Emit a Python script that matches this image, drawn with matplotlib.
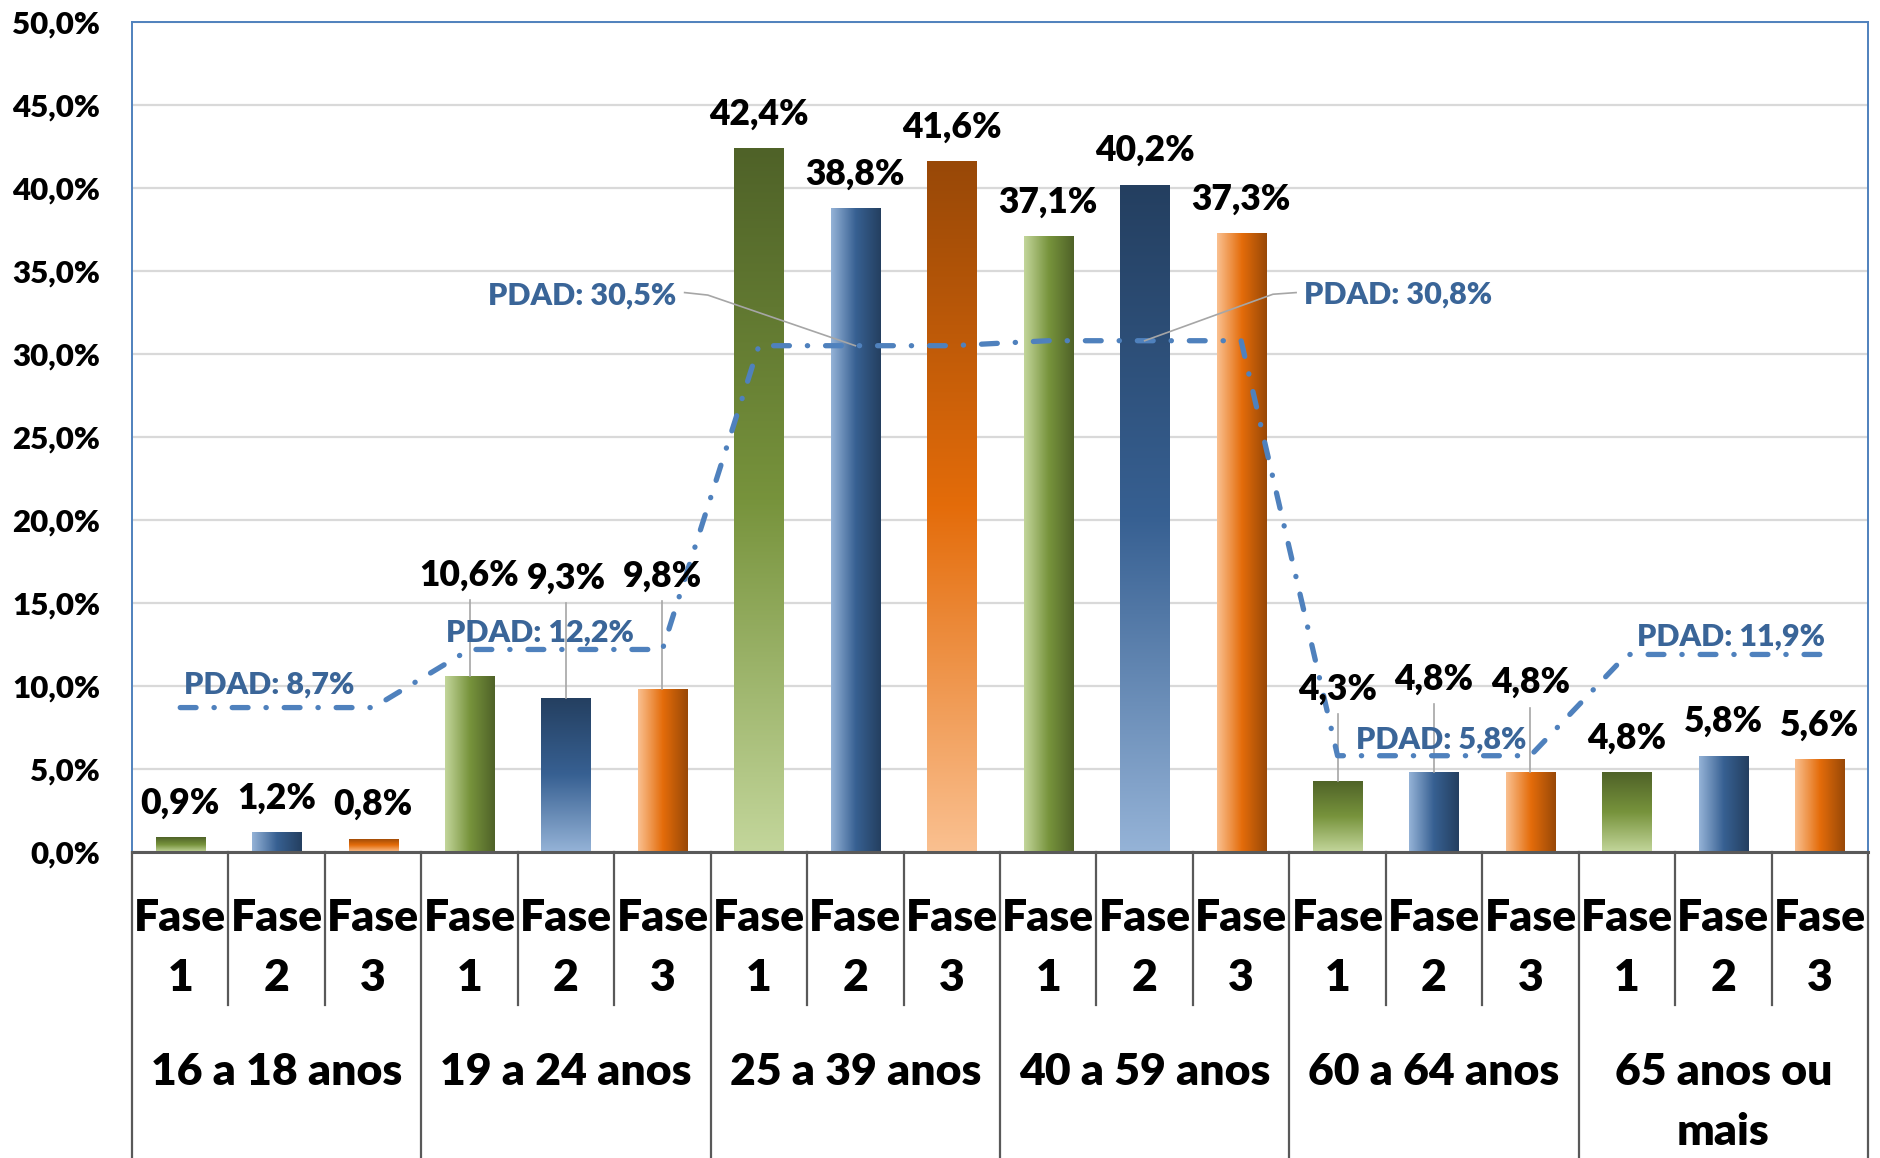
import numpy as np
import matplotlib
matplotlib.use('Agg')
import matplotlib.pyplot as plt
from matplotlib.colors import to_rgb
from matplotlib.transforms import blended_transform_factory
from matplotlib.lines import Line2D

# ---------------- data ----------------
groups = ['16 a 18 anos', '19 a 24 anos', '25 a 39 anos', '40 a 59 anos',
          '60 a 64 anos', '65 anos ou\nmais']
phase_names = ['Fase 1', 'Fase 2', 'Fase 3']
fase1 = [0.9, 10.6, 42.4, 37.1, 4.3, 4.8]
fase2 = [1.2, 9.3, 38.8, 40.2, 4.8, 5.8]
fase3 = [0.8, 9.8, 41.6, 37.3, 4.8, 5.6]
pdad = [8.7, 12.2, 30.5, 30.8, 5.8, 11.9]
pdad_labels = ['PDAD: 8,7%', 'PDAD: 12,2%', 'PDAD: 30,5%', 'PDAD: 30,8%',
               'PDAD: 5,8%', 'PDAD: 11,9%']
yticks = [0, 5, 10, 15, 20, 25, 30, 35, 40, 45, 50]

# gradient orientation per phase / group ('v' dark top -> light bottom, 'h' light left -> dark right)
grad_dir = {
    'Fase 1': ['v', 'h', 'v', 'h', 'v', 'v'],
    'Fase 2': ['h', 'v', 'h', 'v', 'h', 'h'],
    'Fase 3': ['v', 'h', 'v', 'h', 'h', 'h'],
}
# (light, mid, dark)
palette = {
    'Fase 1': ('#C3D69B', '#77933C', '#4F6228'),
    'Fase 2': ('#95B3D7', '#376092', '#243F60'),
    'Fase 3': ('#FAC090', '#E46C0A', '#984807'),
}

FONT = ['Lato', 'DejaVu Sans']
W = 'heavy'
plt.rcParams['font.family'] = FONT

fig = plt.figure(figsize=(18.81, 11.58), dpi=100)
ax = fig.add_axes([132 / 1881, 1 - 852 / 1158, (1868 - 132) / 1881, (852 - 22) / 1158])

series = [fase1, fase2, fase3]
n_groups = len(groups)
xs, vals, dirs, cols = [], [], [], []
for g in range(n_groups):
    for p in range(3):
        xs.append(3 * g + p)
        vals.append(series[p][g])
        dirs.append(grad_dir[phase_names[p]][g])
        cols.append(palette[phase_names[p]])
xs = np.array(xs)

ax.set_xlim(-0.5, 3 * n_groups - 0.5)
ax.set_ylim(0, 50)

bars = ax.bar(xs, vals, width=0.51, facecolor='none', edgecolor='none', zorder=2)


def gradient(cs, direction, n=256):
    light, mid, dark = [np.array(to_rgb(c)) for c in cs]
    t = np.linspace(0, 1, n)[:, None]
    if direction == 'h':
        a, b, c = light, mid, dark       # left -> right
    else:
        a, b, c = dark, mid, light       # top -> bottom
    arr = np.where(t < 0.5, a + (b - a) * (t / 0.5), b + (c - b) * ((t - 0.5) / 0.5))
    return arr[None, :, :] if direction == 'h' else arr[:, None, :]


for rect, d, cs in zip(bars.patches, dirs, cols):
    x0, y0 = rect.get_x(), rect.get_y()
    w, h = rect.get_width(), rect.get_height()
    im = ax.imshow(gradient(cs, d), extent=(x0, x0 + w, y0, y0 + h), origin='upper',
                   aspect='auto', interpolation='bilinear', zorder=2)
    im.set_clip_path(rect)

ax.set_xlim(-0.5, 3 * n_groups - 0.5)
ax.set_ylim(0, 50)

# PDAD line
px = np.arange(3 * n_groups)
py = np.repeat(pdad, 3)
line, = ax.plot(px, py, color='#4F81BD', lw=3.8, zorder=4,
                dash_capstyle='round', solid_capstyle='round')
line.set_dashes([3.0, 3.4, 0.05, 3.4])

# grid & spines
ax.set_yticks(yticks)
ax.set_yticklabels([f'{v:.1f}%'.replace('.', ',') for v in yticks],
                   fontsize=22.5, fontweight=W, family=FONT)
ax.tick_params(axis='y', length=0, pad=23)
ax.set_xticks([])
ax.yaxis.grid(True, color='#D9D9D9', lw=1.6)
ax.set_axisbelow(True)
for s in ['left', 'top', 'right']:
    ax.spines[s].set_color('#4F81BD')
    ax.spines[s].set_linewidth(1.4)
ax.spines['bottom'].set_color('#595959')
ax.spines['bottom'].set_linewidth(2.2)

# value labels
raised = {1: [16.7, 16.5, 16.6], 4: [9.8, 10.4, 10.2]}
for i, (x, v) in enumerate(zip(xs, vals)):
    g, p = divmod(i, 3)
    txt = f'{v:.1f}%'.replace('.', ',')
    if g in raised:
        ly = raised[g][p]
        ax.text(x, ly, txt, ha='center', va='center', fontsize=25.5,
                fontweight=W, zorder=6)
        ax.plot([x, x], [v, ly - 1.5], color='#A6A6A6', lw=1.2, zorder=3)
    else:
        ax.annotate(txt, (x, v), xytext=(0, 24.5), textcoords='offset points',
                    ha='center', va='center', fontsize=25.5, fontweight=W,
                    zorder=6)

# PDAD labels
pdad_pos = [(0.92, 10.1), (3.73, 13.25), (4.17, 33.5), (12.63, 33.6),
            (13.07, 6.75), (16.08, 12.95)]
for (lx, ly), t in zip(pdad_pos, pdad_labels):
    ax.text(lx, ly, t, ha='center', va='center', fontsize=22,
            fontweight=W, color='#3A6598', zorder=7)
# leaders for PDAD 30,5 and 30,8
ax.plot([5.23, 5.47, 7.0], [33.7, 33.55, pdad[2]], color='#A6A6A6', lw=1.2, zorder=5)
ax.plot([10.0, 11.33, 11.57], [pdad[3], 33.6, 33.7], color='#A6A6A6', lw=1.2, zorder=5)

# category axis (two levels)
trans = blended_transform_factory(ax.transData, ax.transAxes)
for k in range(3 * n_groups + 1):
    xb = k - 0.5
    y_end = -0.40 if k % 3 == 0 else -0.184
    ax.add_line(Line2D([xb, xb], [0, y_end], transform=trans, color='#595959',
                       lw=1.6, clip_on=False))
for i, x in enumerate(xs):
    p = i % 3
    ax.text(x, -0.0795, 'Fase', transform=trans, ha='center', va='center',
            fontsize=32, fontweight=W)
    ax.text(x, -0.152, phase_names[p].split()[1], transform=trans, ha='center',
            va='center', fontsize=32, fontweight=W)
for g, name in enumerate(groups):
    lines = name.split('\n')
    for j, ln in enumerate(lines):
        ax.text(3 * g + 1, -0.265 - 0.072 * j, ln, transform=trans, ha='center',
                va='center', fontsize=32, fontweight=W)

fig.savefig('out.png', dpi=100)
